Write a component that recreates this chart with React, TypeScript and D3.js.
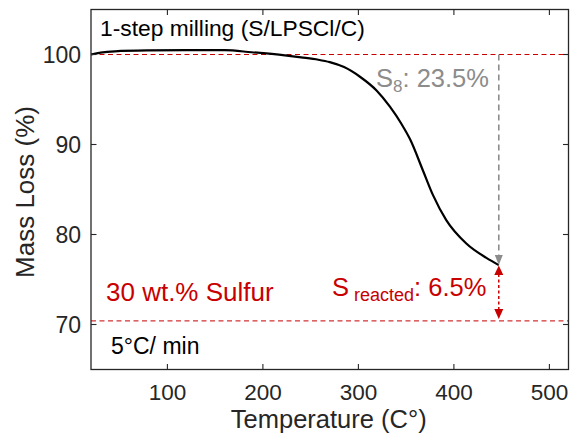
import React from "react";
import * as d3 from "d3";

const temps = [20, 30, 45, 80, 120, 160, 188, 223, 240, 258, 270, 285, 302, 319, 333, 345, 354, 368, 378, 392, 413, 434, 447];
const mass = [100.0, 100.2, 100.35, 100.45, 100.48, 100.48, 100.25, 99.9, 99.68, 99.42, 99.15, 98.6, 97.5, 96.0, 94.2, 92.3, 90.6, 87.0, 84.4, 81.6, 79.0, 77.4, 76.6];
const xTicks = [100, 200, 300, 400, 500];
const yTicks = [70, 80, 90, 100];
const refLines = [100, 70.4];
const arrowT = 447;
const s8End = 76.6;
const sBottom = 70.4;

const W = 571, H = 442;
const L = 91, R = 568.5, T = 9.5, B = 369.5;
const FONT = "'Liberation Sans', Arial, Helvetica, sans-serif";
const RED = "#c80000";
const GRAY = "#8c8c8c";
const AX = "#262626";

export default function App() {
  const x = d3.scaleLinear().domain([20, 520]).range([L, R]);
  const y = d3.scaleLinear().domain([65, 105]).range([B, T]);
  const line = d3.line<number>().x((_, i) => x(temps[i])).y((d) => y(d)).curve(d3.curveMonotoneX);
  const ax = x(arrowT);
  const yEnd = y(s8End);
  const yBot = y(sBottom);
  const tk = 5.5;
  return (
    <svg width={W} height={H} style={{ position: "fixed", left: 0, top: 0, background: "#fff" }} fontFamily={FONT}>
      <rect x={0} y={0} width={W} height={H} fill="#fff" />
      {refLines.map((v) => (
        <line key={v} x1={L} x2={R} y1={y(v)} y2={y(v)} stroke={RED} strokeWidth={1} strokeDasharray="5,3.5" />
      ))}
      <path d={line(mass) || ""} fill="none" stroke="#000" strokeWidth={2.2} />
      <line x1={ax} x2={ax} y1={y(100)} y2={yEnd - 9} stroke={GRAY} strokeWidth={1.6} strokeDasharray="6,4" />
      <path d={`M${ax - 4},${yEnd - 10} L${ax + 4},${yEnd - 10} L${ax},${yEnd} Z`} fill={GRAY} />
      <line x1={ax} x2={ax} y1={yEnd + 9} y2={yBot - 11} stroke={RED} strokeWidth={1.5} strokeDasharray="3,2.5" />
      <path d={`M${ax - 4.5},${yEnd + 10} L${ax + 4.5},${yEnd + 10} L${ax},${yEnd + 0.5} Z`} fill={RED} />
      <path d={`M${ax - 4.5},${yBot - 12} L${ax + 4.5},${yBot - 12} L${ax},${yBot - 2} Z`} fill={RED} />
      <rect x={L} y={T} width={R - L} height={B - T} fill="none" stroke={AX} strokeWidth={1.3} />
      {xTicks.map((t) => (
        <g key={t}>
          <line x1={x(t)} x2={x(t)} y1={B} y2={B - tk} stroke={AX} strokeWidth={1.1} />
          <line x1={x(t)} x2={x(t)} y1={T} y2={T + tk} stroke={AX} strokeWidth={1.1} />
          <text x={x(t)} y={399.5} textAnchor="middle" fontSize={22.5} fill={AX}>{t}</text>
        </g>
      ))}
      {yTicks.map((t) => (
        <g key={t}>
          <line x1={L} x2={L + tk} y1={y(t)} y2={y(t)} stroke={AX} strokeWidth={1.1} />
          <line x1={R} x2={R - tk} y1={y(t)} y2={y(t)} stroke={AX} strokeWidth={1.1} />
          <text x={81} y={y(t) + 8.5} textAnchor="end" fontSize={23} fill={AX}>{t}</text>
        </g>
      ))}
      <text x={(L + R) / 2 - 1} y={428} textAnchor="middle" fontSize={25.5} fill={AX}>Temperature (C°)</text>
      <text transform={`translate(33.5,192) rotate(-90)`} textAnchor="middle" fontSize={26} fill={AX}>Mass Loss (%)</text>
      <text x={100} y={36} fontSize={22.8} fill="#000">1-step milling (S/LPSCl/C)</text>
      <text x={111} y={354} fontSize={23} fill="#000">5°C/ min</text>
      <text x={106} y={300.5} fontSize={26} fill={RED}>30 wt.% Sulfur</text>
      <text x={376} y={87} fontSize={25.5} fill={GRAY}>
        S<tspan fontSize={17} dy={5}>8</tspan><tspan dy={-5}>: 23.5%</tspan>
      </text>
      <text x={332} y={296} fontSize={25.5} fill={RED}>
        S<tspan fontSize={18} dy={5}> reacted</tspan><tspan dy={-5}>: 6.5%</tspan>
      </text>
    </svg>
  );
}
